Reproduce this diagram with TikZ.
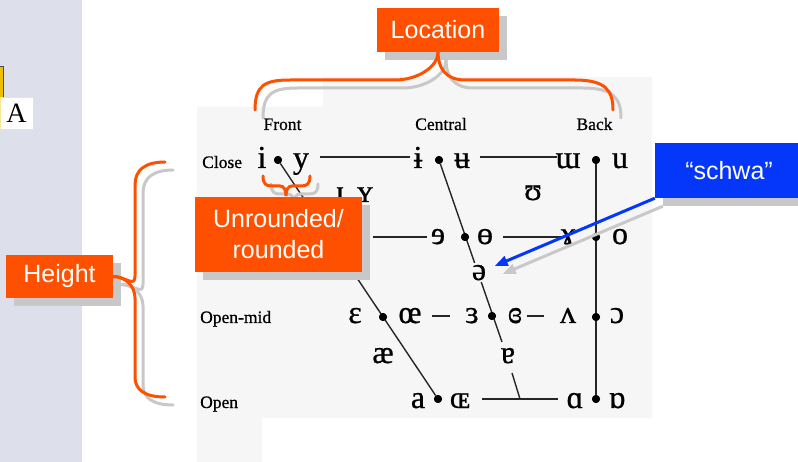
\documentclass[tikz,border=0pt]{standalone}
\usepackage{fontspec}
\setmainfont{Liberation Serif}
\newfontfamily\labelsans{Liberation Sans}
\newfontfamily\chartfont{Liberation Serif}[FakeBold=0.7]
\usetikzlibrary{arrows.meta,shadows,calc}
\definecolor{panel}{RGB}{221,224,234}
\definecolor{chartbg}{RGB}{246,246,246}
\definecolor{hot}{RGB}{255,80,0}
\definecolor{callblue}{RGB}{5,55,250}
\definecolor{shadowgray}{RGB}{200,200,200}
\definecolor{tabyellow}{RGB}{240,190,0}
\definecolor{tabedge}{RGB}{255,228,150}
\begin{document}
\begin{tikzpicture}[x=1pt,y=-1pt,
  vowel/.style={font=\chartfont\fontsize{32}{32}\selectfont, inner sep=0pt, anchor=base},
  schwanode/.style={font=\chartfont\fontsize{32}{32}\selectfont, inner sep=1.5pt, anchor=base, fill=chartbg},
  dotn/.style={circle, fill=black, inner sep=0pt, minimum size=8pt},
  chartline/.style={line width=1.4pt, black!85},
  rowlabel/.style={font=\chartfont\fontsize{17.5}{18}\selectfont, anchor=base west, inner sep=0pt},
  colhead/.style={font=\chartfont\fontsize{17.5}{18}\selectfont, anchor=base, inner sep=0pt},
  callout/.style={fill=hot, text=white, font=\labelsans\fontsize{25}{30}\selectfont, align=center, inner sep=0pt,
     drop shadow={shadow xshift=8pt, shadow yshift=-8pt, fill=shadowgray, opacity=1}},
  bluecallout/.style={callout, fill=callblue},
  bracestroke/.style={draw=hot, line width=3pt, line cap=round},
  braceshadow/.style={draw=shadowgray, line width=3pt, line cap=round},
]
\useasboundingbox (0,0) rectangle (798,462);
\fill[white] (0,0) rectangle (798,462);
\fill[panel] (0,0) rectangle (82,462);
\fill[chartbg] (197,107) -- (323,107) -- (323,77) -- (652,77) -- (652,418) -- (262,418) -- (262,462) -- (197,462) -- cycle;

% left tab
\draw[fill=tabyellow, draw=black!70, line width=1pt] (-5,67) rectangle (3,100);
\node[draw=tabedge, fill=white, minimum width=33pt, minimum height=32pt, inner sep=0pt,
      font=\fontsize{28}{28}\selectfont] (abox) at (16.5,113) {A};

% labels
\node[rowlabel] (lclose) at (202,168) {Close};
\node[rowlabel] (lopenmid) at (200,323) {Open-mid};
\node[rowlabel] (lopen) at (200,408) {Open};
\node[colhead] (hfront) at (282.5,130) {Front};
\node[colhead] (hcentral) at (441,130) {Central};
\node[colhead] (hback) at (594.5,130) {Back};

% dots (positions)
\node[dotn] (dfc) at (278,160) {};
\node[dotn] (dcc) at (439,160) {};
\node[dotn] (dbc) at (596,160) {};
\node[dotn] (dccm) at (465,237) {};
\node[dotn] (dbcm) at (596,237) {};
\node[dotn] (dfom) at (383,317) {};
\node[dotn] (dcom) at (492,316) {};
\node[dotn] (dbom) at (596,317) {};
\node[dotn] (dfo) at (438,399) {};
\node[dotn] (dbo) at (596,399) {};
\coordinate (cend) at (502,342);

% line end coordinates
\coordinate (c1a) at (320,157); \coordinate (c1b) at (410,157);
\coordinate (c2a) at (480,157); \coordinate (c2b) at (557,157);
\coordinate (m1a) at (373,237); \coordinate (m1b) at (427,237);
\coordinate (m2a) at (503,237); \coordinate (m2b) at (563,237);
\coordinate (o1a) at (432,316); \coordinate (o1b) at (450,316);
\coordinate (o2a) at (527,316); \coordinate (o2b) at (544,316);
\coordinate (p1a) at (482,399); \coordinate (p1b) at (558,399);
\coordinate (s1) at (512,373); \coordinate (s2) at (520,399);

% chart lines
\draw[chartline] (dfc) -- (dfo);
\draw[chartline] (dcc) -- (cend);
\draw[chartline] (dbc) -- (dbo);
\draw[chartline] (c1a) -- (c1b);
\draw[chartline] (c2a) -- (c2b);
\draw[chartline] (m1a) -- (m1b);
\draw[chartline] (m2a) -- (m2b);
\draw[chartline] (o1a) -- (o1b);
\draw[chartline] (o2a) -- (o2b);
\draw[chartline] (p1a) -- (p1b);
\draw[chartline] (s1) -- (s2);

% vowels
\node[vowel] (vi) at (262,168) {i};
\node[vowel] (vy) at (301,168) {y};
\node[vowel] (vbari) at (418,168) {ɨ};
\node[vowel] (vbaru) at (462,168) {ʉ};
\node[vowel] (vturnm) at (568,168) {ɯ};
\node[vowel] (vu) at (620,168) {u};
\node[vowel] (vsmi) at (340,202) {ɪ};
\node[vowel] (vsmy) at (365,202) {ʏ};
\node[vowel] (vups) at (533,200) {ʊ};
\node[vowel] (vreve) at (438,244) {ɘ};
\node[vowel] (vbaro) at (485,244) {ɵ};
\node[vowel] (vrams) at (568,244) {ɤ};
\node[vowel] (vo) at (620,244) {o};
\node[schwanode] (vschwa) at (479,280) {ə};
\node[vowel] (veps) at (355,323) {ɛ};
\node[vowel] (voe) at (410,323) {œ};
\node[vowel] (vreveps) at (472,323) {ɜ};
\node[vowel] (vclrev) at (515,323) {ɞ};
\node[vowel] (vturnv) at (568,323) {ʌ};
\node[vowel] (vopeno) at (617,323) {ɔ};
\node[vowel] (vae) at (383,363) {æ};
\node[vowel] (vturna) at (508,363) {ɐ};
\node[vowel] (va) at (418,408) {a};
\node[vowel] (vOE) at (460,408) {ɶ};
\node[vowel] (vscra) at (575,408) {ɑ};
\node[vowel] (vturnscra) at (617,408) {ɒ};
% dots on top
\foreach \d in {dfc,dcc,dbc,dccm,dbcm,dfom,dcom,dbom,dfo,dbo} \fill (\d) circle (4pt);

% ---------- overlays ----------
% Location
\node[callout, minimum width=122pt, minimum height=44pt] (loc) at (438,30) {Location};
\draw[braceshadow] ([shift={(8,8)}]loc.south) .. controls +(0,15) and (425,88) .. (403,88) -- (298,88)
   .. controls (273,88) and (263,93) .. (263,118);
\draw[braceshadow] ([shift={(8,8)}]loc.south) .. controls +(0,15) and (453,88) .. (473,88) -- (583,88)
   .. controls (613,88) and (621,98) .. (621,118);
\draw[bracestroke] (loc.south) .. controls +(0,15) and (417,80) .. (395,80) -- (290,80)
   .. controls (265,80) and (255,85) .. (255,110);
\draw[bracestroke] (loc.south) .. controls +(0,15) and (445,80) .. (465,80) -- (575,80)
   .. controls (605,80) and (613,90) .. (613,110);

% Height
\node[callout, minimum width=107pt, minimum height=43pt] (height) at (59.5,276.5) {Height};
\draw[braceshadow] ([shift={(8,8)}]height.east) .. controls +(12,0) and (143,296) .. (143,284) -- (143,193)
   .. controls (143,178) and (153,170) .. (173,170);
\draw[braceshadow] ([shift={(8,8)}]height.east) .. controls +(12,0) and (143,294) .. (143,306) -- (143,385)
   .. controls (143,398) and (153,405) .. (173,405);
\draw[bracestroke] (height.east) .. controls +(12,0) and (135,288) .. (135,276) -- (135,185)
   .. controls (135,170) and (145,162) .. (165,162);
\draw[bracestroke] (height.east) .. controls +(12,0) and (135,286) .. (135,298) -- (135,377)
   .. controls (135,390) and (145,397) .. (165,397);

% Unrounded/rounded
\coordinate (ubtip) at (286,196);
\draw[braceshadow] (271,184) .. controls (271,192) and (274,194) .. (280,194) -- (288,194)
   .. controls (292,194) and (294,198) .. ([shift={(8,8)}]ubtip) .. controls (294,198) and (296,194) .. (300,194)
   -- (309,194) .. controls (315,194) and (318,192) .. (318,184);
\draw[bracestroke] (263,176) .. controls (263,184) and (266,186) .. (272,186) -- (280,186)
   .. controls (284,186) and (286,190) .. (ubtip) .. controls (286,190) and (288,186) .. (292,186)
   -- (301,186) .. controls (307,186) and (310,184) .. (310,176);
\node[callout, minimum width=167pt, minimum height=75pt, font=\labelsans\fontsize{25}{31}\selectfont] (unr) at (278.5,234.5) {Unrounded/\\rounded};

% schwa
\node[bluecallout, minimum width=148pt, minimum height=55pt] (schwa) at (729,170.5) {“schwa”};
\draw[draw=shadowgray, line width=3pt, shorten >=17pt, -{Triangle[length=13pt,width=10pt, fill=shadowgray]}]
   ([shift={(8,8)}]schwa.south west) -- ([shift={(8,8)}]vschwa.center);
\draw[draw=callblue, line width=3pt, shorten >=17pt, -{Triangle[length=13pt,width=10pt, fill=callblue]}]
   (schwa.south west) -- (vschwa.center);
\end{tikzpicture}
\end{document}
